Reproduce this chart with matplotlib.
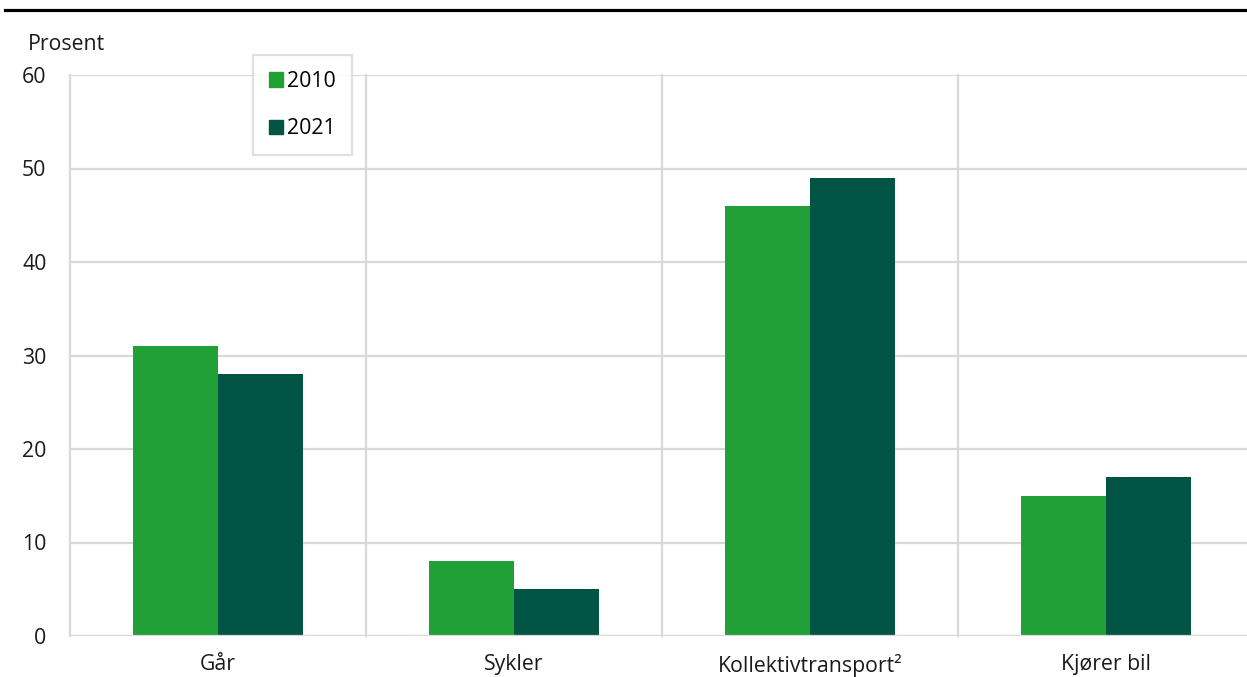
import matplotlib
matplotlib.use("Agg")
import matplotlib.pyplot as plt
import numpy as np
from matplotlib.lines import Line2D

categories = ["Går", "Sykler", "Kollektivtransport²", "Kjører bil"]
years = ["2010", "2021"]
values_2010 = [31, 8, 46, 15]
values_2021 = [28, 5, 49, 17]
yticks = [0, 10, 20, 30, 40, 50, 60]

c2010 = "#21a038"
c2021 = "#025444"
grid_c = "#d9d9d9"
txt_c = "#1a1a1a"
fs = 15.3

plt.rcParams['font.family'] = ['Open Sans', 'DejaVu Sans']

W, H = 1247, 677
fig = plt.figure(figsize=(W / 100, H / 100), dpi=100)
ax = fig.add_axes([70 / W, (H - 636) / H, 4 * 296 / W, (636 - 75) / H])

x = np.arange(len(categories))
bw = 0.286
ax.bar(x - bw / 2, values_2010, width=bw, color=c2010, zorder=3, label=years[0])
ax.bar(x + bw / 2, values_2021, width=bw, color=c2021, zorder=3, label=years[1])

ax.set_xlim(-0.5, len(categories) - 0.5)
ax.set_ylim(0, 60)
ax.set_yticks(yticks)
ax.set_yticklabels([str(v) for v in yticks], fontsize=fs, color=txt_c)
ax.set_xticks(x)
ax.set_xticklabels(categories, fontsize=fs, color=txt_c)
ax.tick_params(axis="both", length=0)
ax.tick_params(axis="y", pad=17)
ax.tick_params(axis="x", pad=13)

for s in ax.spines.values():
    s.set_visible(False)
ax.grid(axis="y", color=grid_c, linewidth=1.6, zorder=0)
for b in np.arange(-0.5, len(categories) + 0.5, 1.0):
    ax.axvline(b, color=grid_c, linewidth=1.6, zorder=0, clip_on=False)
ax.axhline(0, color=grid_c, linewidth=1.6, zorder=4)

# Top black rule
fig.add_artist(Line2D([5 / W, 1.0], [1 - 10 / H, 1 - 10 / H], color="black", linewidth=2.3))

fig.text(28 / W, 1 - 45 / H, "Prosent", fontsize=fs, color=txt_c, va="center", ha="left")

handles = [plt.Rectangle((0, 0), 1, 1, color=c2010), plt.Rectangle((0, 0), 1, 1, color=c2021)]
leg = fig.legend(handles, years, loc="upper left", bbox_to_anchor=(253 / W, 1 - 55 / H),
                 fontsize=fs, frameon=True, fancybox=False, handlelength=0.65, handleheight=0.65,
                 handletextpad=0.2, labelspacing=1.25, borderpad=0.75, borderaxespad=0)
leg.get_frame().set_edgecolor(grid_c)
leg.get_frame().set_linewidth(1.6)
leg.set_zorder(10)

fig.savefig("out.png", dpi=100)
